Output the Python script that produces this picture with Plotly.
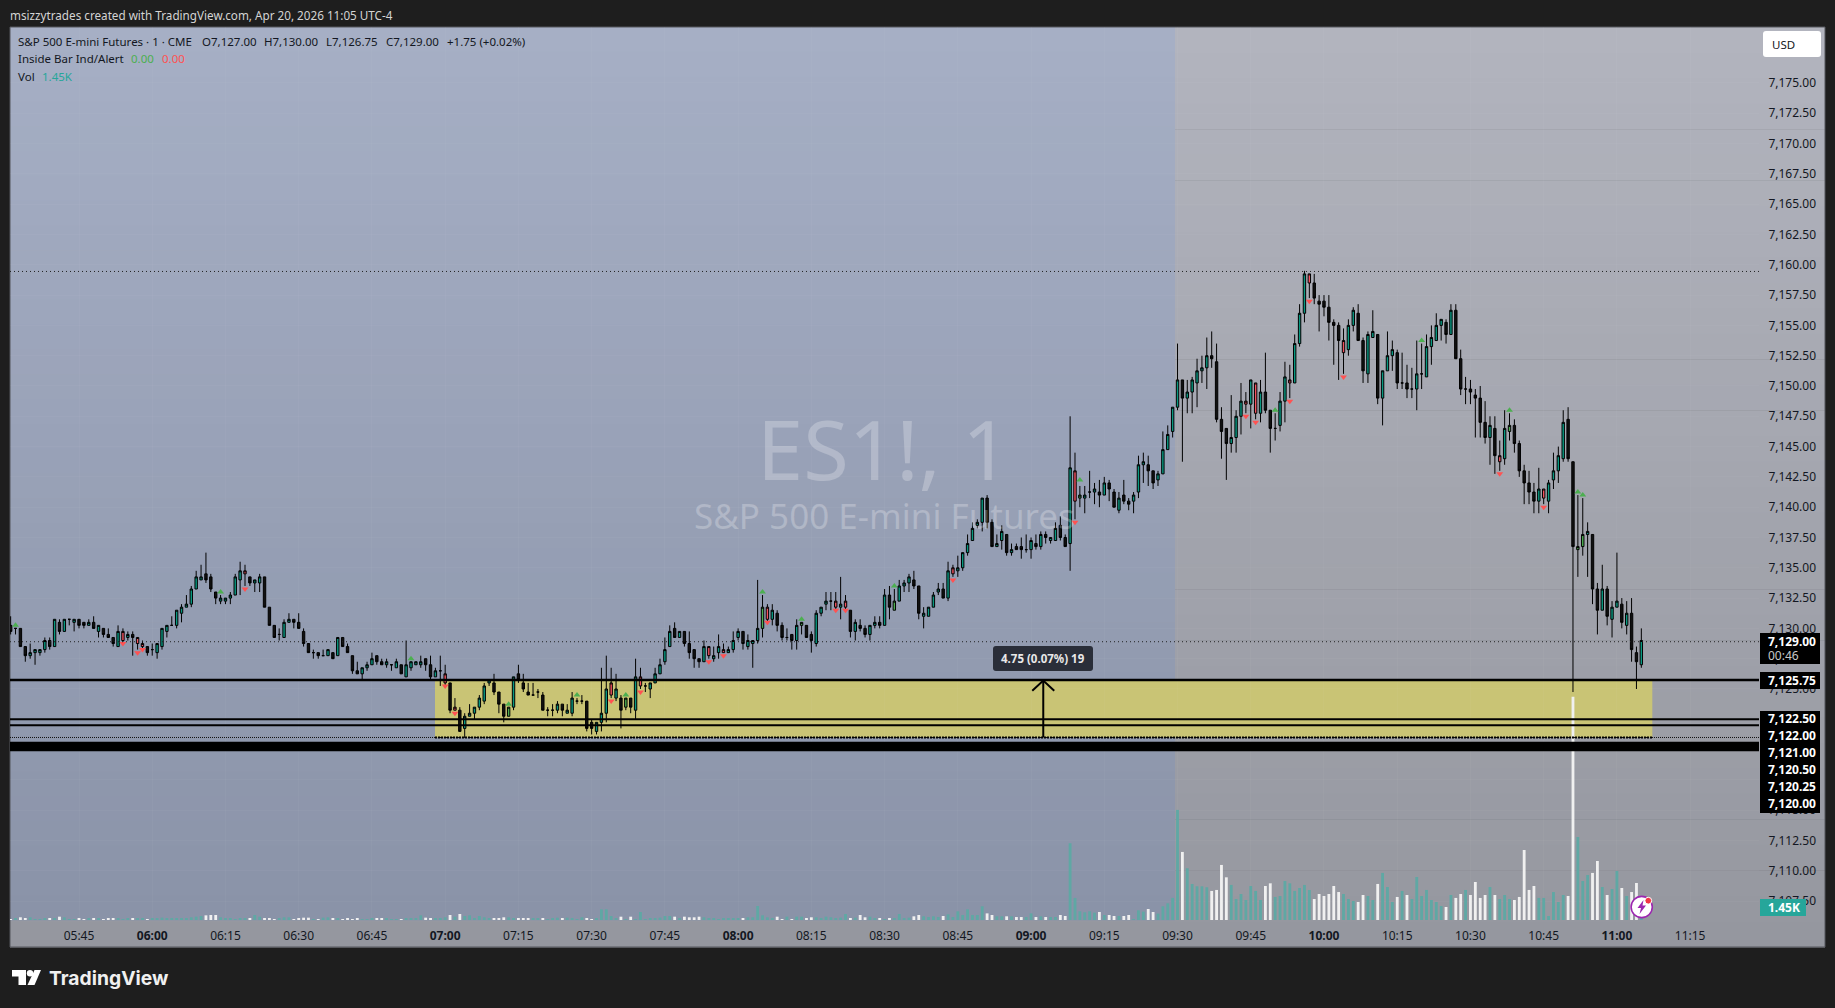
import pandas as pd
import plotly.graph_objects as go

opens = [
7130.25,7130,7130,7128.5,7127.75,7128,7128,7128.25,7129,7128.5,
7130.5,7129.75,7130.75,7130.5,7130.75,7130.5,7130.25,7130.5,7129.75,7130,
7129.5,7129.25,7128.5,7129,7129.25,7129.5,7128.75,7128.5,7128.5,7128.25,
7128,7128.5,7129.75,7130.25,7130.25,7131.25,7131.75,7132,7133.25,7134,
7134.5,7134.25,7133,7132.25,7132.25,7132.5,7132.75,7134,7134.5,7134.25,
7133.75,7133.75,7134.25,7131.75,7130.25,7129.5,7129.25,7130.5,7130.75,7130.5,
7129.75,7128.75,7128,7128,7127.75,7127.75,7128,7127.75,7129.25,7128.5,
7127.75,7126.5,7126.25,7126.75,7127,7127.75,7127.25,7127,7127,7126.75,
7127,7126,7126.75,7127,7127,7127.5,7127,7126,7126.5,7125.5,
7125.5,7123.25,7123.25,7121.75,7122.75,7123,7123.5,7124,7125.5,7125.5,
7124.75,7123.75,7122.75,7123.5,7126.25,7125.5,7124.75,7124.5,7124.75,7124.5,
7123.25,7123.25,7123.25,7123.75,7123,7123,7124,7124,7124,7122.25,
7121.5,7122.25,7123,7124.5,7124.25,7124.25,7123.5,7124.25,7123.25,7125.25,
7125.25,7125,7125.5,7126.25,7127.25,7128.5,7130,7129.25,7129.75,7128.75,
7128.25,7127.5,7127.25,7127.75,7127.5,7128,7128,7128,7128.25,7129.25,
7129.75,7128.5,7128.75,7129,7130,7130.75,7130.75,7131.25,7130.25,7129.25,
7129.5,7129,7130.25,7130.25,7129.5,7128.75,7131.25,7132,7132.25,7131.75,
7131.75,7131.75,7131.5,7129.75,7130.25,7130,7129.5,7130.25,7130.5,7130.25,
7132.75,7131.5,7132.25,7133.5,7133.75,7134,7133.5,7131,7131,7131.75,
7133,7133.25,7132.5,7134.5,7134.75,7135,7136.25,7137.25,7138.5,7138.75,
7140.75,7138.75,7136.75,7137.25,7137.75,7136.25,7136.75,7136.75,7136.5,7136.5,
7137,7136.75,7137.75,7137.25,7137.25,7138.5,7137.5,7137,7140.5,7140.75,
7140.75,7141.25,7141.25,7141.25,7141,7142,7141.25,7139.75,7141,7140.5,
7140.5,7141.25,7143.5,7143.5,7143,7142.25,7142.75,7144.75,7146.25,7148.25,
7150.5,7149,7149.5,7150.25,7151.25,7151.5,7152.5,7152,7147.25,7146.5,
7145.25,7145.75,7147.5,7148.5,7148.5,7147.75,7147.75,7149.5,7148,7146.5,
7146.75,7148.75,7150.25,7150.25,7153.5,7156,7158.5,7158.5,7157,7157,
7156.5,7155.25,7155,7152.75,7153,7155,7156,7153.75,7151,7154,
7154.25,7149,7151.25,7152.5,7152.75,7150.25,7150.25,7149.75,7149.75,7151,
7150.75,7153.25,7153.75,7155,7155.25,7154.25,7156.25,7152.25,7149.75,7149.75,
7149.25,7149,7147,7145.75,7146.5,7143.75,7144,7146.25,7146.75,7145.25,
7143,7142,7141.25,7140.5,7140.75,7140.5,7142.25,7143,7144,7147.25,
7143.75,7136.5,7136.75,7137.75,7137.75,7133.25,7131.5,7133.25,7130.75,7131.75,
7132,7130.25,7131.25,7128,7127,
]
highs = [
7131,7130,7130,7128.5,7128.75,7128.25,7128.25,7129.25,7129.25,7130.75,
7130.75,7130.75,7130.75,7130.75,7130.75,7130.5,7130.75,7131,7130.25,7130,
7130,7129.25,7130.25,7130,7129.75,7129.75,7129.25,7129,7128.5,7128.75,
7128.75,7130,7130.25,7131,7131.5,7132,7132.75,7133.5,7134.75,7135.25,
7136.25,7134.5,7133,7132.75,7132.5,7133,7134.5,7135.5,7135.25,7134.25,
7134,7134.5,7134.25,7131.75,7130.25,7130,7130.75,7131.25,7130.75,7131.25,
7130,7128.75,7128.25,7128,7128.25,7128.25,7128,7129.25,7129.25,7128.75,
7127.75,7127.25,7126.75,7127.25,7128,7127.75,7127.5,7127.5,7127,7127.5,
7127,7129,7127.25,7127.25,7127.75,7127.5,7127.75,7126.75,7127.75,7127,
7125.5,7124.25,7123.5,7123,7123.75,7123.5,7124.5,7125.5,7125.75,7126.25,
7124.75,7123.75,7123.5,7126,7127,7126.25,7125.5,7125.5,7125,7124.75,
7123.5,7123.75,7124,7123.75,7123.75,7124.75,7124.25,7124.5,7124,7122.5,
7122.25,7126.75,7127.75,7126.75,7126.25,7124.5,7124.25,7124.25,7127.5,7126.75,
7125.5,7125.5,7126.75,7127.5,7129.25,7130.25,7130.5,7129.75,7129.75,7129.75,
7128.25,7127.5,7129,7128.5,7128.5,7129.5,7128.75,7128.5,7129.75,7130,
7129.75,7129.5,7129,7134,7132.75,7132,7132,7131.5,7130.5,7130,
7129.5,7130.75,7130.5,7130.25,7129.75,7131.5,7131.75,7133,7133,7133,
7134.25,7132.75,7131.5,7130.75,7130.75,7130.25,7130.25,7131,7131,7133.25,
7133.5,7133.25,7134,7134,7134.5,7134.75,7133.5,7131.75,7131.75,7133,
7133.75,7133.75,7135.5,7135.25,7136,7136.25,7137.75,7138.75,7139,7140.75,
7141,7139,7137.75,7138.5,7137.75,7137,7137,7137.5,7137.75,7137.5,
7137.75,7138,7138,7137.5,7138.75,7139.25,7137.75,7147.5,7144.5,7141.75,
7141.75,7143,7142,7142.25,7142.5,7142.25,7141.5,7141.25,7142.25,7140.75,
7141.25,7144.25,7144.5,7144.25,7143,7143,7146.25,7146.75,7148.25,7153.5,
7150.5,7150.5,7150.75,7152.25,7152.5,7154,7154.5,7153.5,7148.25,7146.5,
7149.25,7148,7150.25,7149.5,7150.5,7150.25,7150.5,7152.75,7148,7147.75,
7149.5,7152,7151.75,7154.25,7156.75,7159.5,7159.25,7159.25,7157.5,7157.5,
7157.5,7155.5,7155.25,7154.75,7155.5,7156.5,7156.75,7154,7154.5,7156.25,
7154.25,7151.25,7154.5,7153.75,7153,7152.75,7151.75,7151.5,7153.75,7153.5,
7154.25,7155,7156,7155.5,7155.5,7156.75,7156.75,7153,7150.75,7150.5,
7149.75,7150,7148.75,7147.5,7147.5,7145.5,7148,7147.75,7147.25,7145.5,
7143.5,7143,7142,7143.25,7141.5,7142.25,7144.5,7145,7148,7148.25,
7143.75,7141,7140.75,7138.75,7137.75,7133.75,7135.25,7133.5,7132.25,7136.25,
7132.5,7132.25,7132.5,7128.5,7130,
]
lows = [
7129.5,7129.5,7128.5,7127.25,7127.5,7127,7127.75,7128,7128.25,7128.5,
7129.5,7129.75,7130.25,7129.75,7130,7130,7130.25,7130,7129.25,7129.25,
7129.25,7128.5,7128.5,7128.75,7129,7127.75,7128.25,7128.25,7127.75,7127.75,
7127.5,7128.25,7129.25,7130.25,7130,7130.5,7131.75,7131.75,7133.25,7134,
7133.75,7133,7132,7132,7132,7132,7132.75,7132.75,7133.5,7133.5,
7133,7133,7131.75,7130.25,7129.25,7129,7129.25,7130.5,7130,7130,
7128.5,7128,7127.5,7127.5,7127.75,7127.75,7127.5,7127.75,7128.5,7128,
7126.25,7126.25,7125.75,7126.5,7127,7127,7127,7126.75,7126.5,7126.75,
7126.25,7126,7126.5,7127,7126.75,7126.5,7125.75,7126,7125.25,7125.25,
7123,7123.25,7121.5,7121,7122.75,7122.5,7123.25,7123.75,7125.25,7124.5,
7123,7122.25,7122.75,7123.25,7125.5,7124.75,7124.5,7124.5,7124.25,7123.25,
7122.75,7122.75,7123,7122.75,7123,7122.75,7123.75,7123.75,7121.5,7121.25,
7121.25,7121.5,7122.25,7124.25,7124,7121.75,7123.25,7123,7122.5,7125,
7124.75,7124.25,7125.5,7126.25,7127,7128.5,7129.25,7129.25,7128.5,7127.5,
7126.75,7126.75,7127.25,7127.5,7127.25,7127.5,7128,7128,7128,7129,
7128.25,7128.25,7126.75,7128.75,7129.25,7130.5,7130.25,7129.75,7129,7129,
7128.25,7128.25,7129.5,7129.25,7128,7128.5,7131,7131.5,7131.5,7131.5,
7130.75,7131.5,7129.25,7129,7129.75,7129.25,7129,7130,7130,7130.25,
7130.75,7131.5,7132.25,7133,7133,7133.25,7130.75,7130,7131,7131.75,
7132.75,7132.5,7132.25,7134.25,7134.25,7134.75,7136,7137.25,7138.25,7138,
7138.25,7136.75,7136.75,7136.5,7136,7136,7136.5,7135.75,7136.25,7135.75,
7136.5,7136.5,7137,7137,7137.25,7137.25,7136.75,7134.75,7139,7140,
7139.5,7140.75,7140.25,7140,7141,7140.5,7140,7139.5,7140.25,7139.75,
7139.5,7140.75,7142,7141.75,7141.5,7141.75,7142.75,7144.75,7145.75,7148,
7143.75,7147.75,7147.75,7148.25,7150.25,7149.75,7151.5,7147,7144,7142.25,
7144.5,7144.5,7146,7147.75,7146.5,7147.25,7147,7147.75,7144.5,7145.5,
7146.25,7147,7149,7150.25,7153.25,7155.25,7157.25,7156.75,7154.5,7155.75,
7153.75,7151.75,7150.5,7151,7152.5,7154.5,7153.75,7150.25,7150.25,7154,
7148.5,7146.75,7151.25,7151.25,7149.75,7149.75,7149,7149,7148,7149.75,
7150.75,7151.75,7153.75,7153.75,7153.5,7154.25,7152.25,7149.25,7148.5,7148.5,
7145.75,7145.75,7145.25,7143.5,7142.75,7143,7143.5,7145.5,7144.5,7142.5,
7140.25,7140.25,7139.5,7139.5,7140.25,7139.5,7141.5,7142,7143.75,7143.75,
7124.75,7134.25,7136,7134.25,7132,7129.5,7131.5,7130.25,7129.25,7131.75,
7130,7129.5,7127.25,7125,7126.75,
]
closes = [
7129.75,7130,7128.5,7127.75,7128,7128.25,7128.25,7129,7128.5,7130.75,
7129.75,7130.75,7130.75,7130.75,7130.25,7130.25,7130.5,7130,7130.25,7129.5,
7129.25,7128.75,7129.75,7129.75,7129.5,7129.25,7129.25,7128.75,7128,7128.25,
7128.75,7130,7130.25,7130.25,7131.5,7131.75,7132,7133.25,7134.25,7134.25,
7134,7133.25,7132.5,7132.5,7132.5,7132.75,7134.25,7134.75,7134.75,7133.75,
7134,7134.25,7131.75,7130.25,7129.25,7129.5,7130.5,7130.75,7130.5,7130,
7128.75,7128,7128,7127.75,7127.75,7128.25,7127.5,7129.25,7128.5,7128,
7126.5,7126.25,7126.75,7127,7127.5,7127.25,7127,7127.25,7127,7127.25,
7126.25,7127,7127.25,7127.25,7127.25,7127,7126,7126.5,7126.5,7126.25,
7123.25,7123.5,7121.5,7122.75,7123,7123.5,7124.25,7125.25,7125.75,7124.75,
7123.75,7122.75,7123.5,7126,7125.75,7125,7124.5,7124.5,7124.75,7123.25,
7123.25,7123.25,7123.75,7123.25,7123.25,7124.25,7124,7124,7121.75,7121.75,
7122.25,7123,7125,7125.5,7125,7123.25,7124.25,7123.5,7126,7126,
7125.25,7125.5,7126.25,7127,7128.25,7129.75,7129.25,7129.75,7128.75,7128,
7127.5,7127.25,7128.5,7128.5,7127.75,7128.5,7128.25,7128.25,7129,7129.75,
7128.75,7129,7129,7130,7131.75,7131.75,7131.5,7130.25,7129.25,7129.25,
7129,7130.25,7130.5,7129.25,7129,7131.25,7131.75,7132.25,7132.25,7132.25,
7132,7132.25,7129.75,7130.5,7130,7129.5,7130.25,7130.5,7130.25,7132.75,
7131.75,7132.25,7133.5,7133.75,7134.25,7133.5,7131.25,7131.25,7131.75,7132.75,
7133.25,7132.5,7134.75,7135,7135,7136.25,7137,7138.25,7138.75,7140.75,
7138.75,7136.75,7137,7138,7136.25,7136.5,7136.5,7136.5,7136.5,7137.25,
7136.75,7137.75,7137.5,7137.5,7138.25,7137.5,7136.75,7143.25,7143,7141,
7141,7141.25,7141.5,7141,7142,7141.5,7140,7140.75,7140.5,7140.25,
7141,7143.5,7143.75,7143,7142,7142.75,7144.75,7146,7148.25,7150.5,
7149,7149.5,7150.5,7151.25,7151.5,7152.5,7152.25,7147.25,7146.25,7145.25,
7145.75,7147.5,7148.75,7148.75,7150.5,7150.25,7149.5,7148,7146.5,7146.5,
7148.75,7150.75,7150.5,7153.5,7156,7159.25,7159.25,7157.25,7156.75,7156.5,
7155.25,7155,7153.75,7153.75,7155,7156.25,7153.75,7151.25,7154.25,7154.5,
7149,7151.25,7152.5,7153,7150.25,7150.25,7149.75,7149.75,7151,7151,
7153.25,7154,7155,7155.5,7154.25,7156.25,7152.25,7149.75,7149.75,7149.5,
7149,7147,7145.75,7146.75,7144.25,7144.25,7146.5,7146.75,7145.25,7143,
7142,7141.25,7140.5,7141.5,7141.5,7142,7143,7144.25,7147,7144,
7136.75,7136.75,7137.75,7138,7133.25,7131.5,7133.25,7131,7131.75,7132.25,
7130.5,7131.25,7128.25,7127.25,7129,
]
volumes_k = [
.11,.15,.3,.19,.3,.11,.11,.15,.15,.19,.37,.3,.11,.11,.15,.11,.15,.22,.19,.11,.22,.15,.22,.11,.15,.19,.22,.15,.11,.22,
.19,.26,.22,.22,.19,.15,.22,.3,.37,.45,.52,.56,.56,.3,.22,.15,.11,.15,.19,.22,.56,.37,.22,.15,.11,.15,.3,.3,.11,.15,
.26,.26,.11,.11,.26,.3,.22,.15,.11,.19,.11,.15,.11,.11,.19,.19,.22,.19,.11,.07,
.11,.19,.22,.19,.52,.26,.19,.15,.22,.3,
.56,.37,.67,.45,.52,.22,.45,.3,.19,.19,.19,.3,.3,.22,.19,.15,.15,.15,.19,.15,.11,.19,.26,.15,.26,.19,.11,.3,.22,.11,
.15,1.19,1.19,.45,.22,.37,.11,.37,.11,.89,.11,.22,.22,.26,.45,.45,.37,.22,.37,.3,.3,.37,.3,.15,.19,.07,.15,.15,.19,.19,
.19,.3,.3,1.56,.52,.3,.22,.37,.11,.37,.11,.37,.37,.22,.3,.3,.22,.37,.3,.15,.26,.67,.22,.26,.56,.3,.37,.19,.15,.11,.19,.22,.67,
.19,.26,.41,.56,.41,.33,.41,.33,.45,.63,
.33,.97,.56,1.19,.56,.56,1.53,.74,.56,.41,
.41,.41,.41,.33,.33,.33,.74,.33,.41,.33,
.33,.33,.56,.45,8.56,2.46,.97,.86,.97,.82,
.89,.56,.56,.45,.45,.45,.56,.07,1.08,.93,
1.23,.89,.71,1.53,1.86,2.46,12.28,7.59,5.77,4.02,
3.76,3.76,3.65,3.24,3.35,6.14,4.76,3.91,2.34,2.9,
2.23,3.79,3.24,2.23,3.79,4.09,2.57,2.68,4.35,4.09,
3.24,3.57,3.91,3.35,2.34,2.9,2.68,2.9,3.79,3.12,
2.9,2.34,2.12,2.01,2.79,2.68,2.23,4.02,5.25,3.68,
2.01,2.57,3.24,2.79,2.34,4.8,2.68,3.35,2.23,2.01,
1.56,1.45,2.79,2.46,2.9,3.35,2.79,4.24,2.46,2.79,
3.68,2.79,2.34,2.79,2.34,2.23,2.57,7.81,3.35,3.79,
2.46,2.46,.45,3.12,2.01,2.79,2.68,24.9,9.26,4.35,
5.02,5.25,6.58,3.68,2.79,3.46,5.47,3.57,2.68,3.12,
4.13,1.45,
]
red_body_bars = [24,27,28,49,90,92,124,130,144,147,156,170,172,194,219,254,256,263,267,274,306,315]
green_body_bars = [103,127,155,163,182,220,308,322,323]
green_marker_bars = [2,44,83,103,117,127,155,163,182,220,260,290,308,322,323]
green_marker_prices = [7130.25,7133,7127.5,7123.75,7124.5,7124.5,7133,7130.75,7133.5,7142.25,7148,7153.75,7148,7141.25,7141]
red_marker_bars = [24,27,28,49,90,92,124,130,144,147,156,170,172,194,219,254,256,263,267,274,306,315]
red_marker_prices = [7128.75,7128,7128.25,7133.25,7125.25,7123,7124,7124.75,7127.25,7127.75,7130.5,7131.5,7131.5,7134,7138.75,7147.5,7147,7148.75,7157,7150.75,7142.75,7140]

price_ticks = [7107.5+2.5*i for i in range(28)]
time_tick_labels = ["05:45","06:00","06:15","06:30","06:45","07:00","07:15","07:30","07:45","08:00","08:15","08:30","08:45","09:00","09:15","09:30","09:45","10:00","10:15","10:30","10:45","11:00","11:15"]
solid_levels = [7125.75,7122.5,7122.0]
thick_levels = [7120.5,7120.25,7120.0]
dotted_levels = [7128.9,7159.45]
level_labels = ["7,122.50","7,122.00","7,121.00","7,120.50","7,120.25","7,120.00"]

DAY = "2026-04-20 "
times = pd.date_range(DAY+"05:31", periods=len(opens), freq="min")
W, H = 1835, 1008
L, R, T, B = 10, 1759, 27, 920
FONT = "Noto Sans"
px = lambda x: (x-L)/(R-L)
py = lambda y: (B-y)/(B-T)

shapes, annos = [], []
def rect(x0,y0,x1,y1,fill,layer="above",line=None):
    shapes.append(dict(type="rect",xref="paper",yref="paper",x0=px(x0),x1=px(x1),y0=py(y0),y1=py(y1),
                       fillcolor=fill,line=dict(width=0) if line is None else line,layer=layer))
def rrect(x0,y0,x1,y1,r,fill):
    P=lambda x,y:f"{px(x)},{py(y)}"
    d=(f"M{P(x0+r,y0)} L{P(x1-r,y0)} Q{P(x1,y0)} {P(x1,y0+r)} L{P(x1,y1-r)} Q{P(x1,y1)} {P(x1-r,y1)} "
       f"L{P(x0+r,y1)} Q{P(x0,y1)} {P(x0,y1-r)} L{P(x0,y0+r)} Q{P(x0,y0)} {P(x0+r,y0)} Z")
    shapes.append(dict(type="path",xref="paper",yref="paper",path=d,fillcolor=fill,line=dict(width=0),layer="above"))
def poly(pts,fill):
    d="M"+" L".join(f"{px(x)},{py(y)}" for x,y in pts)+" Z"
    shapes.append(dict(type="path",xref="paper",yref="paper",path=d,fillcolor=fill,line=dict(width=0),layer="above"))
def circle(cx,cy,r,fill,line=None):
    shapes.append(dict(type="circle",xref="paper",yref="paper",x0=px(cx-r),x1=px(cx+r),y0=py(cy+r),y1=py(cy-r),
                       fillcolor=fill,line=dict(width=0) if line is None else line,layer="above"))
def text(x,y,s,color="#131722",size=11.5,anchor="left",fam=FONT):
    annos.append(dict(xref="paper",yref="paper",x=px(x),y=py(y),text=s,showarrow=False,xanchor=anchor,yanchor="middle",
                      font=dict(family=fam,size=size,color=color),borderpad=0,borderwidth=0))
def lerp(a,b,t): return tuple(round(a[i]+(b[i]-a[i])*t) for i in range(3))

# Pane gradient (grey base, blue pre-market zone)
N=36
for i in range(N):
    y0=T+(947-T)*i/N; y1=T+(947-T)*(i+1)/N
    c=lerp((178,180,190),(149,151,159),(i+.5)/N)
    rect(10,y0,1825,y1+.5,f"rgb{c}",layer="below")
for i in range(N):
    y0=T+(B-T)*i/N; y1=T+(B-T)*(i+1)/N
    c=lerp((166,175,197),(138,147,168),(i+.5)/N)
    rect(10,y0,1175,y1+.5,f"rgb{c}",layer="below")
rect(10,27,1825,947,"rgba(0,0,0,0)",layer="below",line=dict(color="#55565c",width=1))

# Yellow zone
ZONE0, ZONE1 = DAY+"06:57:55", DAY+"11:07:15"
shapes.append(dict(type="rect",xref="x",yref="y2",x0=ZONE0,x1=ZONE1,y0=7121,y1=7125.75,
                   fillcolor="#c9c475",line=dict(width=0),layer="below"))
# Levels
for lv,w in zip(solid_levels,(2.5,2,2)):
    shapes.append(dict(type="line",xref="paper",yref="y2",x0=0,x1=1,y0=lv,y1=lv,line=dict(color="#000",width=w),layer="above"))
for lv in thick_levels:
    shapes.append(dict(type="line",xref="paper",yref="y2",x0=0,x1=1,y0=lv,y1=lv,line=dict(color="#000",width=3.4),layer="above"))
shapes.append(dict(type="line",xref="paper",yref="y2",x0=0,x1=1,y0=7121,y1=7121,line=dict(color="#111",width=1,dash="1px,1px"),layer="above"))
shapes.append(dict(type="line",xref="x",yref="y2",x0=ZONE0,x1=ZONE1,y0=7121,y1=7121,line=dict(color="#000",width=2,dash="2px,1px"),layer="above"))
for lv in dotted_levels:
    shapes.append(dict(type="line",xref="paper",yref="y2",x0=0,x1=1,y0=lv,y1=lv,line=dict(color="#222",width=1,dash="1px,3px"),layer="above"))

# Title / legend text
text(10,15,"msizzytrades created with TradingView.com, Apr 20, 2026 11:05 UTC-4","#d4d4d4",11.7)
text(18,42,"S&P 500 E-mini Futures · 1 · CME")
for x,s in zip((202,264,326,386,447),("O7,127.00","H7,130.00","L7,126.75","C7,129.00","+1.75 (+0.02%)")):
    text(x,42,s)
text(18,59,"Inside Bar Ind/Alert"); text(131,59,"0.00","#4caf50"); text(162,59,"0.00","#ff5252")
text(18,76,"Vol"); text(42,76,"1.45K","#26a69a")

# Watermark
text(883,447,"ES1!, 1","rgba(255,255,255,0.25)",83,"center")
text(884,515,"S&P 500 E-mini Futures","rgba(255,255,255,0.25)",35,"center")

# Price labels
rect(1760,633,1820,664,"#000")
text(1768,641,"<b>7,129.00</b>","#fff",12); text(1768,655,"00:46","#c8c8c8",12)
rect(1760,672,1820,689,"#000"); text(1768,680.5,"<b>7,125.75</b>","#fff",12)
rect(1760,711,1820,813,"#000")
for i,s in enumerate(level_labels):
    text(1768,718.7+17*i,f"<b>{s}</b>","#fff",12)
rect(1760,899,1806,916,"#26a69a"); text(1768,907.5,"<b>1.45K</b>","#fff",12)
rrect(1763,31,1821,57,3,"#ffffff"); text(1772,44.5,"USD")

# Measure tooltip
rrect(993,646,1093,671,3,"#2a2e39")
text(1043,658.5,"<b>4.75 (0.07%) 19</b>","#e8e8e8",11.5,"center")

# TradingView logo
poly([(12,970),(26,970),(26,985),(18.5,985),(18.5,976.5),(12,976.5)],"#fff")
circle(30,973.2,3.2,"#fff")
poly([(34.5,970),(41,970),(34.5,985),(27.5,985)],"#fff")
text(49,978,"<b>TradingView</b>","#f0f0f0",19.3,fam="Inter")

# Alert icon
circle(1641.7,907,10.6,"#ffffff",dict(color="#9c27b0",width=1.6))
poly([(1643.5,900),(1637.5,908),(1641,908),(1639.5,914),(1646,905.5),(1642.5,905.5)],"#9c27b0")
circle(1648.3,900.7,3.4,"#f23645",dict(color="#ffffff",width=1))

tick_times=[DAY+t for t in time_tick_labels]
tick_text=[f"<b>{t}</b>" if t.endswith(":00") else t for t in time_tick_labels]

up_color,down_color="#5fa8a4","#f0f0f0"
vol_colors=[up_color if c>=o else down_color for o,c in zip(opens,closes)]
fig=go.Figure()
fig.add_trace(go.Bar(x=times,y=volumes_k,marker=dict(color=vol_colors,line=dict(width=0)),yaxis="y",hoverinfo="skip",showlegend=False))

red=set(red_body_bars); green=set(green_body_bars)
def group(fn):
    return [i for i in range(len(opens)) if fn(i+1,opens[i],closes[i])]
groups=[
 (group(lambda b,o,c: b not in red and b not in green and c>o),"#089981"),
 (group(lambda b,o,c: b not in red and b not in green and c<=o),"#111111"),
 (group(lambda b,o,c: b in red),"#f7525f"),
 (group(lambda b,o,c: b in green),"#4caf50"),
]
for idx,col in groups:
    st=dict(line=dict(color="#000000",width=1),fillcolor=col)
    fig.add_trace(go.Candlestick(x=[times[i] for i in idx],open=[opens[i] for i in idx],high=[highs[i] for i in idx],
        low=[lows[i] for i in idx],close=[closes[i] for i in idx],increasing=st,decreasing=st,yaxis="y2",
        whiskerwidth=0,hoverinfo="skip",showlegend=False))
fig.add_trace(go.Scatter(x=[times[b-1] for b in green_marker_bars],y=green_marker_prices,mode="markers",yaxis="y2",
    marker=dict(symbol="triangle-up",size=6,color="#4caf50"),showlegend=False,hoverinfo="skip"))
fig.add_trace(go.Scatter(x=[times[b-1] for b in red_marker_bars],y=red_marker_prices,mode="markers",yaxis="y2",
    marker=dict(symbol="triangle-down",size=6,color="#ff5252"),showlegend=False,hoverinfo="skip"))
# Price-range measure arrow
fig.add_trace(go.Scatter(x=[DAY+"09:02:30",DAY+"09:02:30"],y=[7121,7125.75],mode="lines",yaxis="y2",line=dict(color="#000",width=2),showlegend=False,hoverinfo="skip"))
fig.add_trace(go.Scatter(x=[DAY+"09:00:15",DAY+"09:02:30",DAY+"09:04:45"],y=[7124.85,7125.7,7124.85],mode="lines",yaxis="y2",line=dict(color="#000",width=2),showlegend=False,hoverinfo="skip"))

grid="rgba(255,255,255,0.03)"
fig.update_layout(
    width=W,height=H,autosize=False,paper_bgcolor="#1e1e1e",plot_bgcolor="rgba(0,0,0,0)",
    margin=dict(l=L,r=W-R,t=T,b=H-B,pad=0),bargap=0.42,showlegend=False,shapes=shapes,annotations=annos,
    xaxis=dict(type="date",range=[DAY+"05:30:52",DAY+"11:29:06"],tickmode="array",tickvals=tick_times,ticktext=tick_text,
        showgrid=True,gridcolor=grid,zeroline=False,showline=False,ticks="outside",ticklen=5,tickcolor="rgba(0,0,0,0)",
        rangeslider=dict(visible=False),tickfont=dict(family=FONT,size=12,color="#131722"),fixedrange=True),
    yaxis=dict(range=[0,99.6],visible=False,fixedrange=True),
    yaxis2=dict(overlaying="y",side="right",range=[7105.94,7179.62],tickmode="array",tickvals=price_ticks,
        tickformat=",.2f",showgrid=True,gridcolor=grid,zeroline=False,showline=False,ticks="outside",ticklen=6,
        tickcolor="rgba(0,0,0,0)",tickfont=dict(family=FONT,size=12,color="#131722"),fixedrange=True),
)
fig.write_html("out.html",config=dict(displayModeBar=False),
    post_script="document.body.style.margin='0';document.documentElement.style.overflow='hidden';")
